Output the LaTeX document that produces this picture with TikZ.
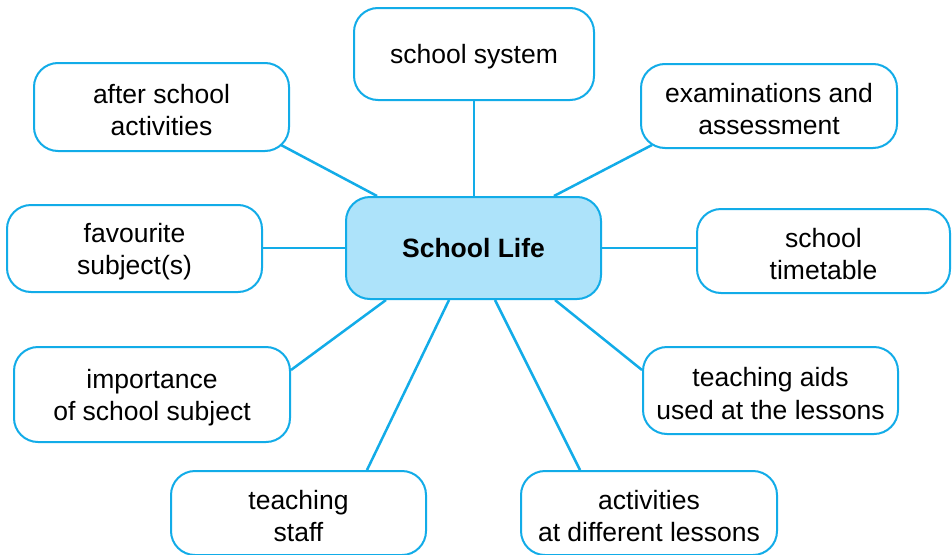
\documentclass[tikz,border=0pt]{standalone}
\usepackage{fontspec}
\setmainfont{Liberation Sans}
\usetikzlibrary{calc}
\definecolor{lineblue}{RGB}{18,172,232}
\definecolor{fillblue}{RGB}{173,227,250}
\newcommand\liftline{\rule{0pt}{25pt}}
\tikzset{
  boxbase/.style={draw=lineblue, line width=2pt, rounded corners=24pt,
    align=center, inner sep=0pt, text=black},
  topic/.style={boxbase, fill=white, font=\fontsize{26.5}{32.5}\selectfont},
  hub/.style={boxbase, fill=fillblue, font=\fontsize{26.5}{32}\selectfont\bfseries},
  link/.style={draw=lineblue, line width=2.5pt}
}
\begin{document}
\begin{tikzpicture}[x=1pt, y=-1pt]
\clip (0,0) rectangle (952,554);
\fill[white] (0,0) rectangle (952,554);
\node[hub, minimum width=255pt, minimum height=102pt] (main) at (473.5,248) {School Life};
\node[topic, minimum width=240pt, minimum height=92pt] (sys) at (474,54) {\liftline school system};
\node[topic, minimum width=255pt, minimum height=88pt] (after) at (161.5,107) {\liftline after school\\activities};
\node[topic, minimum width=256pt, minimum height=84pt] (exam) at (769,106) {\liftline examinations and\\assessment};
\node[topic, minimum width=255pt, minimum height=87pt] (fav) at (134.5,248.5) {\liftline favourite\\subject(s)};
\node[topic, minimum width=253pt, minimum height=84pt] (tt) at (823.5,251) {\liftline school\\timetable};
\node[topic, minimum width=276pt, minimum height=95pt] (imp) at (152,394.5) {\liftline importance\\of school subject};
\node[topic, minimum width=255pt, minimum height=87pt] (aids) at (770.5,390.5) {\liftline teaching aids\\used at the lessons};
\node[topic, minimum width=255pt, minimum height=84pt] (staff) at (298.5,513) {\liftline teaching\\staff};
\node[topic, minimum width=256pt, minimum height=84pt] (act) at (649,513) {\liftline activities\\at different lessons};
\draw[link] (sys.south) -- (main.north -| sys.south);
\draw[link] ($(after.south east)+(-9,-7)$) -- ($(main.north west)+(32,0)$);
\draw[link] ($(exam.south west)+(12,-4)$) -- ($(main.north east)+(-48,0)$);
\draw[link] (main.west -| fav.east) -- (main.west);
\draw[link] (main.east) -- (main.east -| tt.west);
\draw[link] ($(main.south west)+(41,0)$) -- ($(imp.north east)+(0,24)$);
\draw[link] ($(main.south west)+(104,0)$) -- ($(staff.north west)+(197,0)$);
\draw[link] ($(main.south west)+(150,0)$) -- ($(act.north west)+(60,0)$);
\draw[link] ($(main.south east)+(-47,0)$) -- ($(aids.north west)+(0,24)$);
\end{tikzpicture}
\end{document}
